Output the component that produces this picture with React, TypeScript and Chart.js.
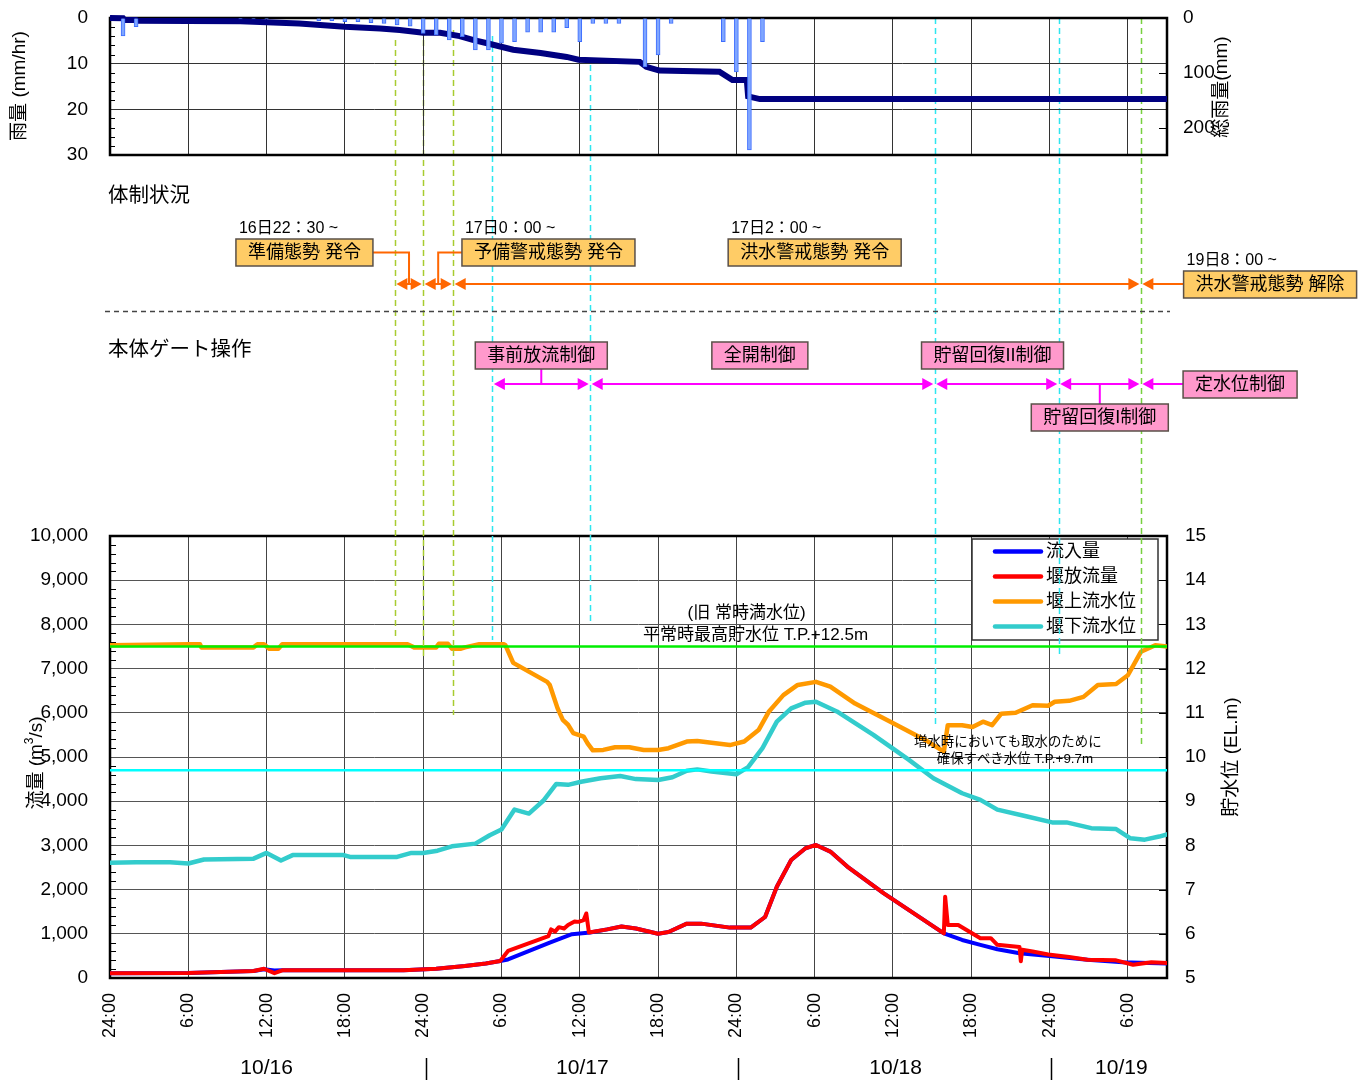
import { useEffect, useRef } from "react";
import { Chart, registerables } from "chart.js";

Chart.register(...registerables);

const FONT = "'Liberation Sans', 'Noto Sans CJK JP', sans-serif";
const W = 1369;
const H = 1083;
const TOP_H = 180;

// ---------- time axis: hours counted from 10/16 0:00 ----------
const HOUR_MIN = 0;
const HOUR_MAX = 81;
const hourTicks = [0, 6, 12, 18, 24, 30, 36, 42, 48, 54, 60, 66, 72, 78];
const dayLabels = ["10/16", "10/17", "10/18", "10/19"];
const dayLabelHours = [12, 36.2, 60.2, 77.5];
const daySeparatorHours = [24.2, 48.1, 72.1];

// ---------- rainfall ----------
const rainHours = [1, 2, 10, 11, 12, 16, 17, 18, 19, 20, 21, 22, 23, 24, 25, 26, 27, 28, 29, 30, 31, 32, 33, 34, 35, 36, 37, 38, 39, 41, 42, 43, 47, 48, 49, 50];
const rainValues = [3.9, 1.9, 0.2, 0.2, 0.2, 0.6, 0.6, 0.8, 0.8, 1.0, 1.2, 1.5, 1.8, 3.4, 3.7, 4.8, 4.1, 7.0, 7.0, 5.5, 5.2, 3.1, 3.1, 3.1, 2.1, 5.2, 1.2, 1.2, 1.2, 10.7, 8.1, 1.2, 5.2, 11.8, 28.9, 5.2];
const cumRainHours = [0, 1, 1.1, 2, 2.1, 10, 14.5, 18, 20.7, 22.2, 24, 25.3, 26.8, 27.8, 28.9, 29.9, 30.9, 33, 35, 35.9, 40.6, 41.1, 42.1, 46.7, 47.7, 48.8, 48.9, 49.8, 81];
const cumRainValues = [0, 0.5, 3.5, 3.5, 5, 6, 10, 16, 19, 22, 27, 27, 33, 40, 46, 52, 58, 64, 71, 76, 80, 89, 96, 98, 113, 113, 143, 148, 148];

// ---------- discharge (m3/s): [hour, value] ----------
type Pt = [number, number];
const inflow: Pt[] = [
  [0, 110], [6, 115], [11, 160], [11.8, 200], [12.6, 170], [13.2, 175], [22.5, 175], [25.0, 210], [27.2, 270], [28.8, 330], [29.9, 385],
  [30.5, 420], [33.7, 800], [35.4, 990], [36.8, 1030], [38.1, 1100], [39.2, 1165], [40.3, 1120], [42.0, 1000], [42.8, 1040], [44.2, 1230],
  [45.3, 1230], [47.5, 1140], [49.1, 1140], [50.2, 1380], [51.1, 2065], [52.2, 2670], [53.3, 2935], [54.1, 3010], [55.2, 2860], [56.5, 2520],
  [59.3, 1915], [61.4, 1500], [63.9, 1010], [65.3, 860], [66.7, 750], [68.0, 650], [69.7, 560], [72.2, 490], [74.9, 415], [77.6, 355], [81, 330],
];
const outflow: Pt[] = [
  [0, 110], [6, 115], [11, 160], [11.8, 210], [12.6, 110], [13.2, 175], [22.5, 175], [25.0, 210], [27.2, 270], [28.8, 330], [29.9, 385],
  [30.5, 611], [33.6, 950], [33.8, 1100], [34.1, 1050], [34.4, 1150], [34.8, 1120], [35.1, 1200], [35.6, 1280], [35.9, 1270], [36.3, 1310],
  [36.5, 1460], [36.7, 1030], [38.1, 1100], [39.2, 1165], [40.3, 1120], [42.0, 1000], [42.8, 1040], [44.2, 1230], [45.3, 1230], [47.5, 1140],
  [49.1, 1140], [50.2, 1380], [51.1, 2065], [52.2, 2670], [53.3, 2935], [54.1, 3010], [55.2, 2860], [56.5, 2520], [59.3, 1915], [61.4, 1500],
  [63.9, 1010], [64.0, 1840], [64.2, 1200], [65.0, 1200], [66.7, 900], [67.5, 900], [68.0, 750], [69.7, 700], [69.8, 380], [69.9, 640],
  [70.7, 600], [71.9, 530], [73.5, 475], [74.9, 415], [77.1, 400], [78.4, 300], [79.8, 355], [81, 340],
];

// ---------- water levels (EL.m): [hour, value] ----------
const upstreamLevel: Pt[] = [
  [0, 12.53], [6.1, 12.55], [6.9, 12.55], [7.0, 12.48], [11.0, 12.48], [11.3, 12.55], [11.8, 12.55], [12.2, 12.45], [12.9, 12.45], [13.2, 12.55],
  [22.8, 12.55], [23.3, 12.48], [25.0, 12.48], [25.2, 12.56], [25.9, 12.56], [26.2, 12.45], [26.9, 12.45], [27.2, 12.48], [28.3, 12.55],
  [30.2, 12.55], [30.3, 12.53], [30.9, 12.13], [33.5, 11.7], [33.7, 11.63], [34.3, 11.1], [34.7, 10.84], [35.1, 10.73], [35.5, 10.54],
  [36.3, 10.46], [36.6, 10.31], [37.0, 10.15], [37.8, 10.16], [38.7, 10.22], [39.8, 10.22], [40.9, 10.16], [42.0, 10.16], [42.8, 10.2],
  [44.2, 10.35], [45.0, 10.36], [47.5, 10.27], [48.6, 10.35], [49.7, 10.61], [50.5, 11.03], [51.6, 11.4], [52.7, 11.63], [54.1, 11.7],
  [55.2, 11.59], [57.1, 11.21], [59.8, 10.8], [62.5, 10.38], [63.9, 10.12], [64.2, 10.72], [65.3, 10.72], [66.1, 10.68], [66.9, 10.8],
  [67.6, 10.72], [68.3, 10.98], [69.4, 11.0], [70.7, 11.17], [71.9, 11.16], [72.4, 11.25], [73.5, 11.27], [74.6, 11.36], [75.7, 11.63],
  [77.1, 11.65], [78.0, 11.85], [79.0, 12.38], [80.1, 12.53], [81, 12.5],
];
const downstreamLevel: Pt[] = [
  [0, 7.61], [2, 7.62], [4.6, 7.62], [6, 7.59], [7.2, 7.68], [11.0, 7.7], [12.0, 7.83], [13.1, 7.66], [14.0, 7.78], [17.9, 7.78], [18.4, 7.74],
  [22.0, 7.74], [23.1, 7.83], [24.0, 7.83], [25.1, 7.88], [26.2, 7.98], [28.0, 8.04], [29.1, 8.23], [30.0, 8.36], [31.0, 8.81], [32.1, 8.72],
  [33.2, 9.01], [34.2, 9.39], [35.1, 9.37], [36.1, 9.44], [37.6, 9.52], [39.1, 9.57], [40.3, 9.5], [42.0, 9.48], [43.1, 9.54], [44.2, 9.69],
  [45.0, 9.72], [46.1, 9.67], [48.0, 9.61], [48.9, 9.77], [50.0, 10.2], [51.1, 10.8], [52.2, 11.1], [53.3, 11.23], [54.1, 11.25], [55.7, 11.03],
  [58.5, 10.5], [61.2, 9.94], [63.1, 9.52], [65.3, 9.18], [66.7, 9.03], [68.0, 8.81], [70.2, 8.66], [72.2, 8.52], [73.3, 8.52], [75.2, 8.39],
  [77.1, 8.37], [78.2, 8.16], [79.3, 8.13], [80.4, 8.2], [81, 8.25],
];
const normalMaxLevel = 12.5;
const intakeLevel = 9.7;

// ---------- operation events ----------
const eventHours = [21.83, 24.0, 26.3, 29.3, 36.8, 63.2, 72.7, 79.0];
const statusTimeTexts = ["16日22：30 ~", "17日0：00 ~", "17日2：00 ~", "19日8：00 ~"];
const statusTexts = ["準備態勢 発令", "予備警戒態勢 発令", "洪水警戒態勢 発令", "洪水警戒態勢 解除"];
const statusBoxHours = [14.9, 33.6, 54.0, 88.9];
const statusSpans = [[0, 1], [1, 2], [2, 7]];
const gateTexts = ["事前放流制御", "全開制御", "貯留回復II制御", "貯留回復I制御", "定水位制御"];
const gateBoxHours = [33.05, 49.8, 67.63, 75.85, 86.6];
const gateSpans = [[3, 4], [4, 5], [5, 6], [6, 7]];

const legendLabels = ["流入量", "堰放流量", "堰上流水位", "堰下流水位"];

// ---------- styles ----------
const COLORS = {
  inflow: "#0000ff",
  outflow: "#ff0000",
  upstream: "#ff9900",
  downstream: "#33cccc",
  normalMax: "#00ee00",
  intake: "#00ffff",
  rainBar: "#7fa6ff",
  rainBarEdge: "#3d6dff",
  cumRain: "#000080",
  status: "#ff6600",
  gate: "#ff00ff",
  statusFill: "#ffcc66",
  gateFill: "#ff99cc",
};
const legendColors = [COLORS.inflow, COLORS.outflow, COLORS.upstream, COLORS.downstream];
const eventLineStyle = [
  { color: "#a8cc30", top: 40, bottom: 638 },
  { color: "#a8cc30", top: 30, bottom: 657 },
  { color: "#a8cc30", top: 30, bottom: 715 },
  { color: "#2ee6f0", top: 36, bottom: 640 },
  { color: "#2ee6f0", top: 65, bottom: 623 },
  { color: "#2ee6f0", top: 18, bottom: 727 },
  { color: "#2ee6f0", top: 18, bottom: 657 },
  { color: "#78d040", top: 18, bottom: 747 },
];
const LAYOUT = {
  rainTop: 18,
  rainBottom: 155,
  plotLeft: 110,
  plotRight: 1167,
  mainTop: 536,
  mainBottom: 978,
  statusRowY: 284,
  statusBoxY: [252.5, 284.5],
  statusBoxRow: [0, 0, 0, 1],
  gateRowY: 384,
  gateBoxY: [355.5, 384.5, 417.5],
  gateBoxRow: [0, 0, 0, 2, 1],
  separatorY: 311,
};
const CLEAR = "rgba(0,0,0,0)";

Chart.defaults.font.family = FONT;
Chart.defaults.color = "#000";

const zip = (xs: number[], ys: number[]) => xs.map((x, i) => ({ x, y: ys[i] }));
const toXY = (pts: Pt[]) => pts.map(([x, y]) => ({ x, y }));
const hourTickBuilder = (axis: any) => {
  axis.ticks = hourTicks.map((v) => ({ value: v }));
};

function rotatedText(ctx: CanvasRenderingContext2D, text: string, cx: number, cy: number, size: number) {
  ctx.save();
  ctx.translate(cx, cy);
  ctx.rotate(-Math.PI / 2);
  ctx.font = `${size}px ${FONT}`;
  ctx.fillStyle = "#000";
  ctx.textAlign = "center";
  ctx.textBaseline = "middle";
  ctx.fillText(text, 0, 0);
  ctx.restore();
}

function triangle(ctx: CanvasRenderingContext2D, tipX: number, y: number, dir: number, color: string) {
  ctx.beginPath();
  ctx.moveTo(tipX, y);
  ctx.lineTo(tipX - dir * 11, y - 6);
  ctx.lineTo(tipX - dir * 11, y + 6);
  ctx.closePath();
  ctx.fillStyle = color;
  ctx.fill();
}

function span(ctx: CanvasRenderingContext2D, x1: number, x2: number, y: number, color: string) {
  ctx.strokeStyle = color;
  ctx.lineWidth = 2;
  ctx.beginPath();
  ctx.moveTo(x1 + 4, y);
  ctx.lineTo(x2 - 4, y);
  ctx.stroke();
  triangle(ctx, x1 + 1.5, y, -1, color);
  triangle(ctx, x2 - 1.5, y, 1, color);
}

type Box = { left: number; right: number; top: number; bottom: number; cx: number; cy: number; text: string };

function boxGeom(ctx: CanvasRenderingContext2D, text: string, cx: number, cy: number): Box {
  ctx.font = `18px ${FONT}`;
  const w = Math.round(ctx.measureText(text).width + 24);
  const h = 27;
  return { left: cx - w / 2, right: cx + w / 2, top: cy - h / 2, bottom: cy + h / 2, cx, cy, text };
}

function drawBox(ctx: CanvasRenderingContext2D, b: Box, fill: string) {
  ctx.fillStyle = fill;
  ctx.fillRect(b.left, b.top, b.right - b.left, b.bottom - b.top);
  ctx.strokeStyle = "#5a5048";
  ctx.lineWidth = 1.5;
  ctx.strokeRect(b.left, b.top, b.right - b.left, b.bottom - b.top);
  ctx.font = `18px ${FONT}`;
  ctx.fillStyle = "#000";
  ctx.textAlign = "center";
  ctx.textBaseline = "middle";
  ctx.fillText(b.text, b.cx, b.cy + 1);
}

function polyline(ctx: CanvasRenderingContext2D, pts: number[][], color: string) {
  ctx.strokeStyle = color;
  ctx.lineWidth = 2;
  ctx.beginPath();
  pts.forEach(([x, y], i) => (i ? ctx.lineTo(x, y) : ctx.moveTo(x, y)));
  ctx.stroke();
}

const rainDecor = {
  id: "rainDecor",
  beforeDatasetsDraw(chart: any) {
    const { ctx, chartArea: a, scales } = chart;
    ctx.save();
    ctx.strokeStyle = "#000";
    ctx.lineWidth = 1;
    ctx.beginPath();
    for (let v = 2; v < 30; v += 2) {
      if (v % 10 === 0) continue;
      const y = Math.round(scales.y.getPixelForValue(v)) + 0.5;
      ctx.moveTo(a.left, y);
      ctx.lineTo(a.left + 5, y);
    }
    for (const v of [100, 200]) {
      const y = Math.round(scales.y2.getPixelForValue(v)) + 0.5;
      ctx.moveTo(a.right - 8, y);
      ctx.lineTo(a.right, y);
    }
    ctx.stroke();
    ctx.lineWidth = 2.5;
    ctx.strokeRect(a.left, a.top, a.right - a.left, a.bottom - a.top);
    ctx.restore();
  },
  afterDraw(chart: any) {
    const { ctx } = chart;
    rotatedText(ctx, "雨量 (mm/hr)", 20, 86, 19);
    rotatedText(ctx, "総雨量(mm)", 1222, 87, 19);
  },
};

const dischargeDecor = {
  id: "dischargeDecor",
  beforeDatasetsDraw(chart: any) {
    const { ctx, chartArea: a, scales } = chart;
    ctx.save();
    ctx.strokeStyle = "#000";
    ctx.lineWidth = 1;
    ctx.beginPath();
    for (let v = 200; v < 10000; v += 200) {
      if (v % 1000 === 0) continue;
      const y = Math.round(scales.y.getPixelForValue(v)) + 0.5;
      ctx.moveTo(a.left, y);
      ctx.lineTo(a.left + 6, y);
    }
    for (let v = 6; v < 15; v++) {
      const y = Math.round(scales.y2.getPixelForValue(v)) + 0.5;
      ctx.moveTo(a.right - 8, y);
      ctx.lineTo(a.right, y);
    }
    ctx.stroke();
    ctx.lineWidth = 2.5;
    ctx.strokeRect(a.left, a.top, a.right - a.left, a.bottom - a.top);
    ctx.restore();
  },
  afterDatasetsDraw(chart: any) {
    const { ctx, chartArea: a, scales } = chart;
    const px = (h: number) => scales.x.getPixelForValue(h);
    const lv = (m: number) => scales.y2.getPixelForValue(m);
    ctx.save();

    // reference level captions
    ctx.fillStyle = "#000";
    ctx.textAlign = "center";
    ctx.textBaseline = "middle";
    ctx.font = `17px ${FONT}`;
    ctx.fillText("(旧 常時満水位)", px(48.78), lv(normalMaxLevel) - 33.5);
    ctx.fillText("平常時最高貯水位 T.P.+12.5m", px(49.47), lv(normalMaxLevel) - 11.5);
    ctx.font = `13.4px ${FONT}`;
    ctx.fillText("増水時においても取水のために", px(68.8), lv(intakeLevel) - 28);
    ctx.fillText("確保すべき水位 T.P.+9.7m", px(69.35), lv(intakeLevel) - 11);

    // legend
    const lgL = a.right - 195;
    const lgT = a.top + 3;
    ctx.fillStyle = "#fff";
    ctx.fillRect(lgL, lgT, 186, 101);
    ctx.strokeStyle = "#333";
    ctx.lineWidth = 1.5;
    ctx.strokeRect(lgL, lgT, 186, 101);
    legendLabels.forEach((t, i) => {
      const y = lgT + 12.5 + i * 25;
      ctx.strokeStyle = legendColors[i];
      ctx.lineWidth = 4.5;
      ctx.lineCap = "round";
      ctx.beginPath();
      ctx.moveTo(lgL + 23, y);
      ctx.lineTo(lgL + 69, y);
      ctx.stroke();
      ctx.font = `18px ${FONT}`;
      ctx.fillStyle = "#000";
      ctx.textAlign = "left";
      ctx.fillText(t, lgL + 74, y + 1);
    });
    ctx.lineCap = "butt";

    // event markers
    ctx.lineWidth = 1.5;
    ctx.setLineDash([6, 4]);
    eventHours.forEach((h, i) => {
      const s = eventLineStyle[i];
      const x = Math.round(px(h)) + 0.5;
      ctx.strokeStyle = s.color;
      ctx.beginPath();
      ctx.moveTo(x, s.top);
      ctx.lineTo(x, s.bottom);
      ctx.stroke();
    });

    // section separator
    ctx.strokeStyle = "#444";
    ctx.setLineDash([5, 4]);
    ctx.beginPath();
    ctx.moveTo(105, LAYOUT.separatorY + 0.5);
    ctx.lineTo(1170, LAYOUT.separatorY + 0.5);
    ctx.stroke();
    ctx.setLineDash([]);

    // section headings
    ctx.font = `20.5px ${FONT}`;
    ctx.fillStyle = "#000";
    ctx.textAlign = "left";
    ctx.textBaseline = "middle";
    ctx.fillText("体制状況", 108, 196);
    ctx.fillText("本体ゲート操作", 108, 350);

    // organisation status
    const sRow = LAYOUT.statusRowY;
    const sBoxes = statusTexts.map((t, i) =>
      boxGeom(ctx, t, px(statusBoxHours[i]), LAYOUT.statusBoxY[LAYOUT.statusBoxRow[i]])
    );
    statusSpans.forEach(([i, j]) => span(ctx, px(eventHours[i]), px(eventHours[j]), sRow, COLORS.status));
    const m01 = px((eventHours[0] + eventHours[1]) / 2);
    const m12 = px((eventHours[1] + eventHours[2]) / 2);
    polyline(ctx, [[sBoxes[0].right, sBoxes[0].cy], [m01, sBoxes[0].cy], [m01, sRow]], COLORS.status);
    polyline(ctx, [[sBoxes[1].left, sBoxes[1].cy], [m12, sBoxes[1].cy], [m12, sRow]], COLORS.status);
    const endX = px(eventHours[7]);
    polyline(ctx, [[sBoxes[3].left, sRow], [endX + 4, sRow]], COLORS.status);
    triangle(ctx, endX + 1.5, sRow, -1, COLORS.status);
    sBoxes.forEach((b, i) => {
      drawBox(ctx, b, COLORS.statusFill);
      ctx.font = `16px ${FONT}`;
      ctx.fillStyle = "#000";
      ctx.textAlign = "left";
      ctx.textBaseline = "middle";
      ctx.fillText(statusTimeTexts[i], b.left + 3, b.top - 10);
    });

    // gate operation
    const gRow = LAYOUT.gateRowY;
    const gBoxes = gateTexts.map((t, i) =>
      boxGeom(ctx, t, px(gateBoxHours[i]), LAYOUT.gateBoxY[LAYOUT.gateBoxRow[i]])
    );
    gateSpans.forEach(([i, j]) => span(ctx, px(eventHours[i]), px(eventHours[j]), gRow, COLORS.gate));
    polyline(ctx, [[gBoxes[0].cx, gBoxes[0].bottom], [gBoxes[0].cx, gRow]], COLORS.gate);
    polyline(ctx, [[gBoxes[3].cx, gBoxes[3].top], [gBoxes[3].cx, gRow]], COLORS.gate);
    polyline(ctx, [[gBoxes[4].left, gRow], [endX + 4, gRow]], COLORS.gate);
    triangle(ctx, endX + 1.5, gRow, -1, COLORS.gate);
    gBoxes.forEach((b) => drawBox(ctx, b, COLORS.gateFill));

    // dates under the time axis
    ctx.font = `21px ${FONT}`;
    ctx.fillStyle = "#000";
    ctx.textAlign = "center";
    ctx.textBaseline = "middle";
    dayLabels.forEach((t, i) => ctx.fillText(t, px(dayLabelHours[i]), 1068));
    ctx.strokeStyle = "#000";
    ctx.lineWidth = 1.5;
    daySeparatorHours.forEach((h) => {
      const x = Math.round(px(h)) + 0.5;
      ctx.beginPath();
      ctx.moveTo(x, 1058);
      ctx.lineTo(x, 1080);
      ctx.stroke();
    });

    // axis titles
    ctx.save();
    ctx.translate(37, 763);
    ctx.rotate(-Math.PI / 2);
    const big = `19px ${FONT}`;
    const small = `12px ${FONT}`;
    ctx.font = big;
    const w1 = ctx.measureText("流量 (m").width;
    const w3 = ctx.measureText("/s)").width;
    ctx.font = small;
    const w2 = ctx.measureText("3").width;
    let x = -(w1 + w2 + w3) / 2;
    ctx.textAlign = "left";
    ctx.fillStyle = "#000";
    ctx.font = big;
    ctx.fillText("流量 (m", x, 0);
    x += w1;
    ctx.font = small;
    ctx.fillText("3", x, -7);
    x += w2;
    ctx.font = big;
    ctx.fillText("/s)", x, 0);
    ctx.restore();
    rotatedText(ctx, "貯水位 (EL.m)", 1232, 757, 19);

    ctx.restore();
  },
};

// invisible tick marks give the label gap without padding the plot area
const gapGrid = (gap: number, extra: any = {}) => ({
  drawTicks: true,
  tickLength: gap,
  tickColor: CLEAR,
  ...extra,
});

export default function App() {
  const topRef = useRef<HTMLCanvasElement>(null);
  const mainRef = useRef<HTMLCanvasElement>(null);

  useEffect(() => {
    if (!topRef.current || !mainRef.current) return;

    const rainChart = new Chart(topRef.current, {
      type: "line",
      data: {
        datasets: [
          {
            type: "bar",
            label: "雨量",
            data: zip(rainHours, rainValues),
            yAxisID: "y",
            backgroundColor: COLORS.rainBar,
            borderColor: COLORS.rainBarEdge,
            borderWidth: 1,
            barThickness: 4,
            order: 0,
          } as any,
          {
            type: "line",
            label: "総雨量",
            data: zip(cumRainHours, cumRainValues),
            yAxisID: "y2",
            borderColor: COLORS.cumRain,
            borderWidth: 6,
            pointRadius: 0,
            tension: 0,
            clip: 6,
            order: 1,
          } as any,
        ],
      },
      options: {
        responsive: false,
        animation: false,
        layout: { padding: { top: LAYOUT.rainTop, left: 0, right: 0, bottom: 0 } },
        plugins: { legend: { display: false }, tooltip: { enabled: false } },
        scales: {
          x: {
            type: "linear",
            min: HOUR_MIN,
            max: HOUR_MAX,
            offset: false,
            afterBuildTicks: hourTickBuilder,
            ticks: { display: false },
            grid: { color: "#333", lineWidth: 1, drawTicks: false, offset: false },
            border: { display: false },
            afterFit: (s: any) => {
              s.height = TOP_H - LAYOUT.rainBottom;
            },
          },
          y: {
            type: "linear",
            position: "left",
            min: 0,
            max: 30,
            reverse: true,
            ticks: { stepSize: 10, padding: 0, font: { size: 19 }, color: "#000" },
            grid: gapGrid(22, { color: "#333" }),
            border: { display: false },
            afterFit: (s: any) => {
              s.width = LAYOUT.plotLeft;
            },
          },
          y2: {
            type: "linear",
            position: "right",
            min: 0,
            max: 250,
            reverse: true,
            afterBuildTicks: (s: any) => {
              s.ticks = [0, 100, 200].map((v) => ({ value: v }));
            },
            ticks: { padding: 0, font: { size: 19 }, color: "#000" },
            grid: gapGrid(16, { drawOnChartArea: false }),
            border: { display: false },
            afterFit: (s: any) => {
              s.width = W - LAYOUT.plotRight;
            },
          },
        },
      } as any,
      plugins: [rainDecor],
    });

    const mainChart = new Chart(mainRef.current, {
      type: "line",
      data: {
        datasets: [
          { label: "流入量", data: toXY(inflow), borderColor: COLORS.inflow, borderWidth: 4, yAxisID: "y", order: 4 },
          { label: "堰放流量", data: toXY(outflow), borderColor: COLORS.outflow, borderWidth: 4, yAxisID: "y", order: 3 },
          { label: "堰上流水位", data: toXY(upstreamLevel), borderColor: COLORS.upstream, borderWidth: 4.5, yAxisID: "y2", order: 2 },
          { label: "堰下流水位", data: toXY(downstreamLevel), borderColor: COLORS.downstream, borderWidth: 4.5, yAxisID: "y2", order: 2 },
          {
            label: "平常時最高貯水位",
            data: [{ x: HOUR_MIN, y: normalMaxLevel }, { x: HOUR_MAX, y: normalMaxLevel }],
            borderColor: COLORS.normalMax,
            borderWidth: 2.5,
            yAxisID: "y2",
            order: 0,
          },
          {
            label: "確保すべき水位",
            data: [{ x: HOUR_MIN, y: intakeLevel }, { x: HOUR_MAX, y: intakeLevel }],
            borderColor: COLORS.intake,
            borderWidth: 2.5,
            yAxisID: "y2",
            order: 0,
          },
        ],
      },
      options: {
        responsive: false,
        animation: false,
        layout: { padding: { top: LAYOUT.mainTop, left: 0, right: 0, bottom: 0 } },
        elements: {
          point: { radius: 0 },
          line: { tension: 0, borderJoinStyle: "round", borderCapStyle: "round" },
        },
        plugins: { legend: { display: false }, tooltip: { enabled: false } },
        scales: {
          x: {
            type: "linear",
            min: HOUR_MIN,
            max: HOUR_MAX,
            afterBuildTicks: hourTickBuilder,
            ticks: {
              autoSkip: false,
              minRotation: 90,
              maxRotation: 90,
              padding: 15,
              font: { size: 18 },
              color: "#000",
              callback: (v: any) => {
                const h = Number(v) % 24;
                return h === 0 ? "24:00" : `${h}:00`;
              },
            },
            grid: { color: "#444", drawTicks: false },
            border: { display: false },
            afterFit: (s: any) => {
              s.height = H - LAYOUT.mainBottom;
            },
          },
          y: {
            type: "linear",
            position: "left",
            min: 0,
            max: 10000,
            ticks: {
              stepSize: 1000,
              padding: 0,
              font: { size: 19 },
              color: "#000",
              callback: (v: any) => Number(v).toLocaleString("en-US"),
            },
            grid: gapGrid(22, { color: "#555" }),
            border: { display: false },
            afterFit: (s: any) => {
              s.width = LAYOUT.plotLeft;
            },
          },
          y2: {
            type: "linear",
            position: "right",
            min: 5,
            max: 15,
            ticks: { stepSize: 1, padding: 0, font: { size: 19 }, color: "#000" },
            grid: gapGrid(18, { drawOnChartArea: false }),
            border: { display: false },
            afterFit: (s: any) => {
              s.width = W - LAYOUT.plotRight;
            },
          },
        },
      } as any,
      plugins: [dischargeDecor],
    });

    return () => {
      rainChart.destroy();
      mainChart.destroy();
    };
  }, []);

  return (
    <div style={{ position: "absolute", left: 0, top: 0, width: W, height: H, background: "#fff" }}>
      <canvas ref={mainRef} width={W} height={H} style={{ position: "absolute", left: 0, top: 0, width: W, height: H }} />
      <canvas ref={topRef} width={W} height={TOP_H} style={{ position: "absolute", left: 0, top: 0, width: W, height: TOP_H }} />
    </div>
  );
}
